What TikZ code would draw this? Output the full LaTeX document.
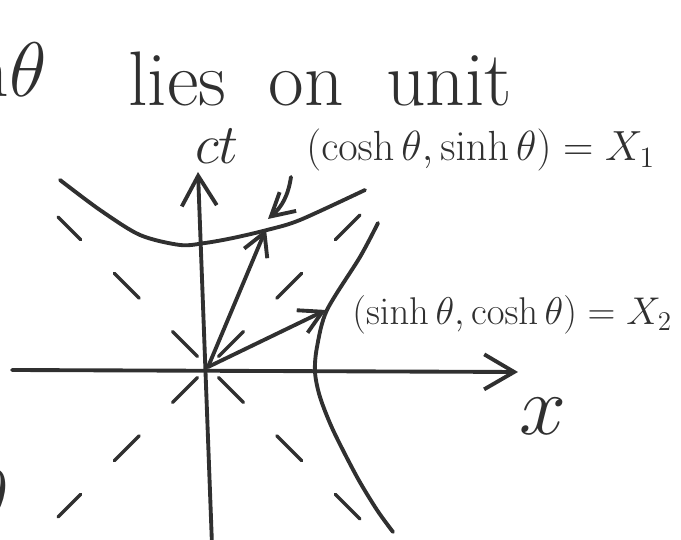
\RequirePackage{fix-cm}
\documentclass[tikz,border=0pt]{standalone}
\usepackage{amsmath,amssymb}
\usepackage{xcolor}
\usepackage{tikz}
\usetikzlibrary{arrows.meta}

\definecolor{ink}{HTML}{303030}

\begin{document}
\begin{tikzpicture}[
    x=0.02cm, y=-0.02cm,
    pen/.style={draw=ink, line width=2.2pt, line cap=round, line join=round},
    axis/.style={pen, -{Straight Barb[length=6mm, width=7mm]}},
    vec/.style={pen, -{Straight Barb[length=4.5mm, width=5mm]}},
    asym/.style={draw=ink, line width=2pt, line cap=round, dash pattern=on 0.7cm off 0.95cm, dash phase=1.35cm},
    hand/.style={text=ink, inner sep=0pt}
]
\useasboundingbox (0,0) rectangle (681,540);
\clip (0,0) rectangle (681,540);

% points
\coordinate (O) at (208,367);
\coordinate (xL) at (12,370);
\coordinate (xR) at (518,372);
\coordinate (tB) at (212,545);
\coordinate (tT) at (198,172);
\coordinate (X1) at (266,229);
\coordinate (X2) at (326,310);
\coordinate (ptr) at (291,177);
\coordinate (ptrend) at (268,219);

% heading
\node[hand, anchor=base east, font=\fontsize{44}{50}\selectfont] (cut) at (47,97) {h$\theta$};
\node[hand, anchor=base west, font=\fontsize{44}{50}\selectfont] (title) at (128,106) {lies\hspace{0.55em}on\hspace{0.55em}unit};
\node[hand, anchor=base east, font=\fontsize{44}{50}\selectfont] (cutlow) at (9,525) {$\theta$};

% axes
\draw[axis] (xL) -- (xR);
\draw[axis] (tB) -- (tT);
\node[hand, anchor=base, font=\fontsize{32}{36}\selectfont] (ctlab) at (217,164) {$ct$};
\node[hand, font=\fontsize{48}{50}\selectfont] (xlab) at (543,416) {$x$};

% light cone
\foreach \dx/\dy/\len in {-1/-1/150, 1/-1/160, -1/1/150, 1/1/175}
    \draw[asym] (O) -- ++(\dx*\len,\dy*\len);

% unit hyperbolas
\draw[pen] plot[smooth] coordinates {(60,180) (100,210) (140,235) (180,245) (205,243) (233,238) (267,230) (300,220) (365,190)};
\draw[pen] plot[smooth] coordinates {(378,223) (360,257) (327,310) (317,347) (315,372) (320,397) (333,430) (357,477) (377,510) (393,532)};

% four-vectors
\draw[vec] (O) -- (X1);
\draw[vec] (O) -- (X2);
\draw[vec] (ptr) to[bend left=20] (ptrend);

\node[hand, anchor=base west, font=\fontsize{24}{28}\selectfont] (X1lab) at (306,161) {$(\cosh\theta,\sinh\theta)=X_1$};
\node[hand, anchor=base west, font=\fontsize{22}{26}\selectfont] (X2lab) at (352,325) {$(\sinh\theta,\cosh\theta)=X_2$};
\end{tikzpicture}
\end{document}
